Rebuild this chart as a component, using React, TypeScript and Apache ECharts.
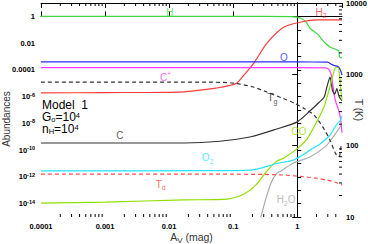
import React, { useEffect, useRef } from 'react';
import * as echarts from 'echarts';

const FONT = '"Liberation Sans", Arial, Helvetica, sans-serif';

// Axis ranges (real units)
const AV_MIN = 1e-4;
const AV_MAX = 5;
const AB_MIN = 1e-15;
const AB_MAX = 10;
const T_MIN = 10;
const T_MAX = 10000;

// Tick labels
const xTickExps = [-4, -3, -2, -1, 0];
const xTickLabels = ['0.0001', '0.001', '0.01', '0.1', '1'];
const abTickExps = [0, -2, -4, -6, -8, -10, -12, -14];
const abTickLabels = ['1', '0.01', '0.0001', '10^-6', '10^-8', '10^-10', '10^-12', '10^-14'];
const tTickExps = [1, 2, 3, 4];
const tTickLabels = ['10', '100', '1000', '10000'];

// Abundance curves (Av in mag, abundance relative to H)
const avH = [1e-4, 0.01, 0.3, 0.8, 1.0, 1.15, 1.35, 1.6, 1.8, 2.1, 2.4, 2.8, 3.3, 3.8, 4.2, 4.45, 4.6, 5.0];
const abH = [1.0, 1.0, 1.0, 0.97, 0.88, 0.7, 0.42, 0.12, 0.08, 0.045, 0.02, 0.009, 0.005, 0.0038, 0.0031, 0.0027, 0.0009, 0.0008];

const avH2 = [1e-4, 0.001, 0.017, 0.055, 0.09, 0.115, 0.148, 0.21, 0.337, 0.62, 1.15, 2.04, 5];
const abH2 = [1.9e-6, 2.0e-6, 2.3e-6, 4.4e-6, 7e-6, 1.05e-5, 4.2e-5, 3.2e-4, 1.0e-2, 0.16, 0.38, 0.54, 0.55];

const avO = [1e-4, 1, 3.0, 3.4, 3.8, 4.2, 4.5, 4.8, 5];
const abO = [3.9e-4, 3.9e-4, 3.85e-4, 2.6e-4, 2.1e-4, 1.9e-4, 1.5e-4, 8e-5, 4e-5];

const avCp = [1e-4, 1, 2.77, 3.1, 3.37, 3.62, 3.9, 4.3, 4.7, 5];
const abCp = [1.45e-4, 1.45e-4, 1.4e-4, 1.1e-4, 5e-5, 6e-6, 6e-7, 1.5e-7, 3e-8, 2e-9];

const avC = [1e-4, 0.017, 0.062, 0.19, 0.48, 1.0, 1.64, 2.2, 2.62, 2.95, 3.25, 3.55, 3.85, 4.15, 4.5, 5];
const abC = [3.4e-10, 3.4e-10, 4.6e-10, 1.0e-9, 3.8e-9, 1.3e-8, 1e-7, 3.8e-7, 9e-7, 7e-6, 2.9e-5, 3e-6, 1.5e-6, 4e-6, 1e-6, 5e-7];

const avCO = [1e-4, 0.001, 0.017, 0.08, 0.148, 0.227, 0.337, 0.48, 0.62, 1.0, 1.42, 2.04, 2.62, 3.37, 3.75, 4.03, 4.33, 4.6, 4.8, 5];
const abCO = [1.1e-14, 1.3e-14, 1.9e-14, 2.2e-14, 5.3e-14, 2.5e-13, 2.8e-12, 1.5e-11, 2.6e-11, 1.3e-10, 6.7e-10, 1.5e-8, 1.7e-7, 1.05e-5, 8e-5, 1.5e-4, 1.5e-4, 3e-5, 3e-6, 6e-7];

const avO2 = [1e-4, 0.05, 0.19, 0.26, 0.48, 0.87, 1.22, 1.58, 2.27, 3.25, 4.18, 4.66, 5];
const abO2 = [2.8e-12, 2.9e-12, 3.2e-12, 4.3e-12, 1e-11, 1.8e-11, 4.4e-11, 1.0e-10, 2.9e-10, 1.35e-9, 9e-9, 1.5e-8, 3.5e-8];

const avH2O = [0.25, 0.27, 0.32, 0.39, 0.47, 0.56, 0.87, 1.58, 2.8, 3.62, 4.66, 5];
const abH2O = [3e-16, 1e-15, 1.9e-14, 3.5e-13, 1.7e-12, 2.8e-12, 1.1e-11, 3.1e-11, 2e-10, 9.5e-10, 5.4e-9, 1.1e-8];

// Temperatures (K)
const avTg = [1e-4, 0.01, 0.05, 0.1, 0.2, 0.337, 0.6, 0.89, 1.3, 1.83, 2.5, 3.25, 3.9, 4.33, 4.6, 4.8, 5];
const tTg = [780, 780, 775, 755, 670, 565, 460, 396, 330, 269, 183, 120, 80, 70, 72, 95, 105];

const avTd = [1e-4, 0.01, 0.1, 0.3, 0.6, 1.15, 2.0, 2.92, 4.0, 5];
const tTd = [40, 40, 39.8, 39.5, 38.8, 37, 35, 33, 30.5, 28];

// Curve labels
const labelNamesL = ['H', 'H_2', 'O', 'C^+', 'C', 'CO', 'O_2', 'H_2O'];
const labelAvL = [0.0103, 2.35, 0.62, 0.0088, 0.0017, 1.06, 0.04, 0.67];
const labelAbL = [2.1, 2.1, 7.8e-4, 2.9e-5, 1.15e-9, 2.3e-9, 2.6e-11, 1.9e-14];
const labelColorsL = ['#3fd83f', '#ff3b3b', '#2b2bff', '#ff3cff', '#333333', '#8fe000', '#22e5ff', '#aaaaaa'];

const labelNamesR = ['T_g', 'T_d'];
const labelAvR = [0.41, 0.0074];
const labelTR = [466, 29];
const labelColorsR = ['#222222', '#ff3b3b'];

const modelLines = ['Model  1', 'G_o=10^4', 'n_H=10^4'];

const lg = Math.log10;

function toRich(s: string): string {
  let out = '';
  let i = 0;
  while (i < s.length) {
    const c = s[i];
    if (c === '_' || c === '^') {
      out += `{${c === '_' ? 's' : 'p'}|${s[i + 1]}}`;
      i += 2;
    } else {
      let j = i;
      while (j < s.length && s[j] !== '_' && s[j] !== '^') j++;
      out += `{b|${s.slice(i, j)}}`;
      i = j;
    }
  }
  return out;
}

function richStyles(size: number, color: string, weight: string = 'normal') {
  return {
    b: { fontSize: size, lineHeight: Math.round(size * 1.35), color, fontWeight: weight, fontFamily: FONT },
    s: { fontSize: Math.round(size * 0.72), lineHeight: Math.round(size * 0.75), verticalAlign: 'bottom', color, fontWeight: weight, fontFamily: FONT },
    p: { fontSize: Math.round(size * 0.72), lineHeight: Math.round(size * 0.75), verticalAlign: 'top', color, fontWeight: weight, fontFamily: FONT },
  };
}

const modelRich = {
  b: { fontSize: 12, lineHeight: 12, color: '#3a3a3a', fontFamily: FONT },
  s: { fontSize: 7.5, lineHeight: 4, verticalAlign: 'bottom', color: '#3a3a3a', fontFamily: FONT },
  p: { fontSize: 7.5, lineHeight: 4, verticalAlign: 'top', color: '#3a3a3a', fontFamily: FONT },
};

function tickRich(label: string): string {
  const k = label.indexOf('^');
  if (k < 0) return `{b|${label}}`;
  return `{b|${label.slice(0, k)}}{p|${label.slice(k + 1)}}`;
}

const tickLabelRich = {
  b: { fontSize: 7.5, lineHeight: 10, color: '#000', fontWeight: 'bold', fontFamily: FONT },
  p: { fontSize: 5.5, lineHeight: 5, verticalAlign: 'top', color: '#000', fontWeight: 'bold', fontFamily: FONT },
};

function pairs(xs: number[], ys: number[]) {
  return xs.map((x, i) => [lg(x), lg(ys[i])]);
}

function matchLabel(v: number, exps: number[], labels: string[]) {
  const i = exps.findIndex((e) => Math.abs(e - v) < 1e-6);
  return i >= 0 ? tickRich(labels[i]) : '';
}

function buildOption() {
  const xMin = lg(AV_MIN);
  const xMax = lg(AV_MAX);

  // minor tick positions from the log scale
  const minorData: number[][] = [];
  for (let n = -4; n <= 0; n++) {
    for (let k = 2; k <= 9; k++) {
      const v = k * Math.pow(10, n);
      if (v < AV_MAX) minorData.push([lg(v), lg(T_MIN), 0]);
    }
  }
  for (let n = 1; n <= 3; n++) {
    for (let k = 2; k <= 9; k++) {
      minorData.push([xMax, lg(k * Math.pow(10, n)), 1]);
    }
  }

  const lineSeries = (name: string, xs: number[], ys: number[], color: string, yAxisIndex = 0, dashed = false) => ({
    name,
    type: 'line',
    yAxisIndex,
    data: pairs(xs, ys),
    showSymbol: false,
    symbol: 'none',
    smooth: 0.25,
    clip: true,
    lineStyle: { color, width: 1.2, type: dashed ? [4, 3] : 'solid' },
    z: 3,
  });

  const axisLine = { show: true, lineStyle: { color: '#000', width: 1 } };
  const axisTick = { show: true, inside: true, length: 5, lineStyle: { color: '#000', width: 1 } };

  return {
    animation: false,
    backgroundColor: '#fff',
    grid: { left: 41, right: 26, top: 3, bottom: 27, containLabel: false, outerBoundsMode: 'none' },
    xAxis: [
      {
        type: 'value',
        min: xMin,
        max: xMax,
        interval: 1,
        position: 'bottom',
        axisLine,
        axisTick,
        splitLine: { show: false },
        axisLabel: {
          margin: 4,
          showMaxLabel: false,
          formatter: (v: number) => matchLabel(v, xTickExps, xTickLabels),
          rich: tickLabelRich,
        },
        name: toRich('A_V (mag)'),
        nameLocation: 'middle',
        nameGap: 13,
        nameMoveOverlap: false,
        nameTextStyle: { rich: richStyles(10.5, '#333') },
      },
      {
        type: 'value',
        min: xMin,
        max: xMax,
        interval: 1,
        position: 'top',
        axisLine,
        axisTick,
        splitLine: { show: false },
        axisLabel: { show: false },
      },
    ],
    yAxis: [
      {
        type: 'value',
        min: lg(AB_MIN),
        max: lg(AB_MAX),
        interval: 1,
        position: 'left',
        axisLine,
        axisTick: { ...axisTick, length: 4 },
        splitLine: { show: false },
        axisLabel: {
          margin: 6,
          formatter: (v: number) => matchLabel(v, abTickExps, abTickLabels),
          rich: tickLabelRich,
        },
        name: 'Abundances',
        nameLocation: 'middle',
        nameGap: 30,
        nameMoveOverlap: false,
        nameTextStyle: { fontSize: 10, color: '#333', fontFamily: FONT, padding: [0, 18, 0, 0] },
      },
      {
        type: 'value',
        min: lg(T_MIN),
        max: lg(T_MAX),
        interval: 1,
        position: 'right',
        axisLine,
        axisTick,
        splitLine: { show: false },
        axisLabel: {
          margin: 4,
          formatter: (v: number) => matchLabel(v, tTickExps, tTickLabels),
          rich: tickLabelRich,
        },
        name: 'T (K)',
        nameLocation: 'middle',
        nameRotate: -90,
        nameGap: 11,
        nameMoveOverlap: false,
        nameTextStyle: { fontSize: 10, color: '#333', fontFamily: FONT },
      },
    ],
    series: [
      lineSeries('H', avH, abH, '#3fd83f'),
      lineSeries('H2', avH2, abH2, '#ff3b3b'),
      lineSeries('O', avO, abO, '#2b2bff'),
      lineSeries('C+', avCp, abCp, '#ff3cff'),
      lineSeries('C', avC, abC, '#333333'),
      lineSeries('CO', avCO, abCO, '#8fe000'),
      lineSeries('O2', avO2, abO2, '#22e5ff'),
      lineSeries('H2O', avH2O, abH2O, '#aaaaaa'),
      lineSeries('Tg', avTg, tTg, '#333333', 1, true),
      lineSeries('Td', avTd, tTd, '#ff4d4d', 1, true),
      {
        name: 'labelsL',
        type: 'scatter',
        yAxisIndex: 0,
        symbolSize: 0,
        silent: true,
        z: 5,
        label: { show: true, position: 'inside' },
        data: labelNamesL.map((t, i) => ({
          value: [lg(labelAvL[i]), lg(labelAbL[i])],
          label: { formatter: toRich(t), rich: richStyles(10, labelColorsL[i]) },
        })),
      },
      {
        name: 'labelsR',
        type: 'scatter',
        yAxisIndex: 1,
        symbolSize: 0,
        silent: true,
        z: 5,
        label: { show: true, position: 'inside' },
        data: labelNamesR.map((t, i) => ({
          value: [lg(labelAvR[i]), lg(labelTR[i])],
          label: { formatter: toRich(t), rich: richStyles(10, labelColorsR[i]) },
        })),
      },
      {
        name: 'minorTicks',
        type: 'custom',
        xAxisIndex: 0,
        yAxisIndex: 1,
        silent: true,
        z: 4,
        data: minorData,
        encode: { x: 0, y: 1 },
        renderItem: (_params: any, api: any) => {
          const kind = api.value(2);
          const st = { stroke: '#000', lineWidth: 1 };
          if (kind === 0) {
            const b = api.coord([api.value(0), lg(T_MIN)]);
            const t = api.coord([api.value(0), lg(T_MAX)]);
            return {
              type: 'group',
              children: [
                { type: 'line', shape: { x1: b[0], y1: b[1], x2: b[0], y2: b[1] - 3 }, style: st },
                { type: 'line', shape: { x1: t[0], y1: t[1], x2: t[0], y2: t[1] + 3 }, style: st },
              ],
            };
          }
          const r = api.coord([lg(AV_MAX), api.value(1)]);
          return { type: 'line', shape: { x1: r[0], y1: r[1], x2: r[0] - 3, y2: r[1] }, style: st };
        },
      },
    ],
    graphic: modelLines.map((t, i) => ({
      type: 'text',
      left: 42,
      top: 99 + i * 12,
      silent: true,
      style: { text: toRich(t), rich: modelRich },
    })),
  };
}

export default function App() {
  const ref = useRef<HTMLDivElement>(null);
  useEffect(() => {
    if (!ref.current) return;
    const chart = echarts.init(ref.current, null, { renderer: 'svg' });
    chart.setOption(buildOption() as any);
    return () => chart.dispose();
  }, []);
  return (
    <div
      ref={ref}
      style={{ position: 'fixed', left: 0, top: 0, width: 368, height: 244, background: '#fff' }}
    />
  );
}
